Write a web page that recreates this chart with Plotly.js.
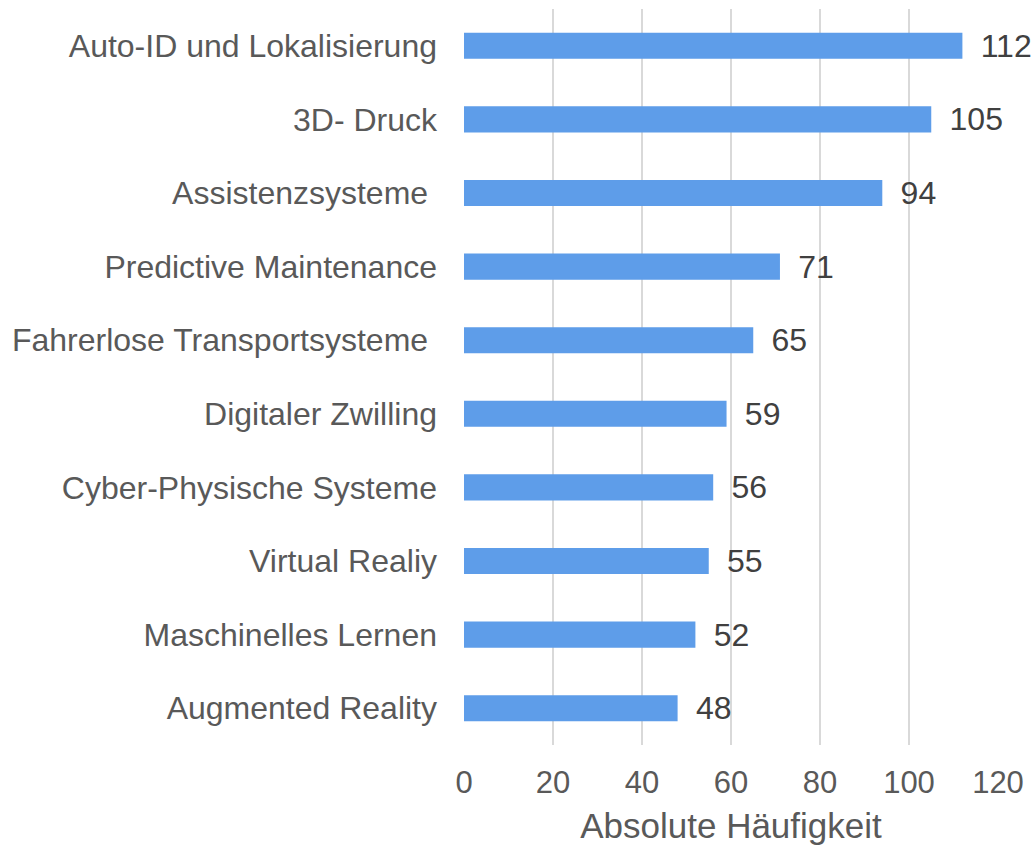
<!DOCTYPE html>
<html>
<head>
<meta charset="utf-8">
<script src="https://cdn.plot.ly/plotly-3.0.1.min.js"></script>
<style>html,body{margin:0;padding:0;background:#fff;}#chart{width:1032px;height:848px;}</style>
</head>
<body>
<div id="chart"></div>
<script>
const categories = [
  "Auto-ID und Lokalisierung",
  "3D- Druck",
  "Assistenzsysteme\u00a0",
  "Predictive Maintenance",
  "Fahrerlose Transportsysteme\u00a0",
  "Digitaler Zwilling",
  "Cyber-Physische Systeme",
  "Virtual Realiy",
  "Maschinelles Lernen",
  "Augmented Reality"
];
const counts = [112, 105, 94, 71, 65, 59, 56, 55, 52, 48];
const xTicks = [0, 20, 40, 60, 80, 100, 120];
const xTitle = "Absolute Häufigkeit";

const font = "Liberation Sans, Arial, sans-serif";

Plotly.newPlot("chart", [{
  type: "bar",
  orientation: "h",
  y: categories,
  x: counts,
  marker: {color: "#5E9DE9", line: {width: 0}},
  text: counts.map(String),
  texttemplate: "\u00a0\u2009%{text}",
  textposition: "outside",
  constraintext: "none",
  cliponaxis: false,
  textfont: {family: font, size: 32, color: "#404040"},
  hoverinfo: "skip"
}], {
  width: 1032,
  height: 848,
  margin: {l: 464, r: 34, t: 9, b: 103},
  paper_bgcolor: "#fff",
  plot_bgcolor: "#fff",
  bargap: 0.645,
  showlegend: false,
  font: {family: font, color: "#595959"},
  xaxis: {
    range: [0, 120],
    tickvals: xTicks,
    ticktext: xTicks.map(String),
    showgrid: true,
    gridcolor: "#D9D9D9",
    gridwidth: 2,
    zeroline: false,
    showline: false,
    ticks: "",
    tickfont: {family: font, size: 31, color: "#595959"},
    ticklabelstandoff: 16,
    title: {text: xTitle, font: {family: font, size: 35, color: "#595959"}, standoff: 14}
  },
  yaxis: {
    autorange: "reversed",
    type: "category",
    showgrid: false,
    zeroline: false,
    showline: false,
    ticks: "",
    tickfont: {family: font, size: 32, color: "#595959"},
    ticklabelstandoff: 26
  }
}, {displayModeBar: false, staticPlot: true});
</script>
</body>
</html>
